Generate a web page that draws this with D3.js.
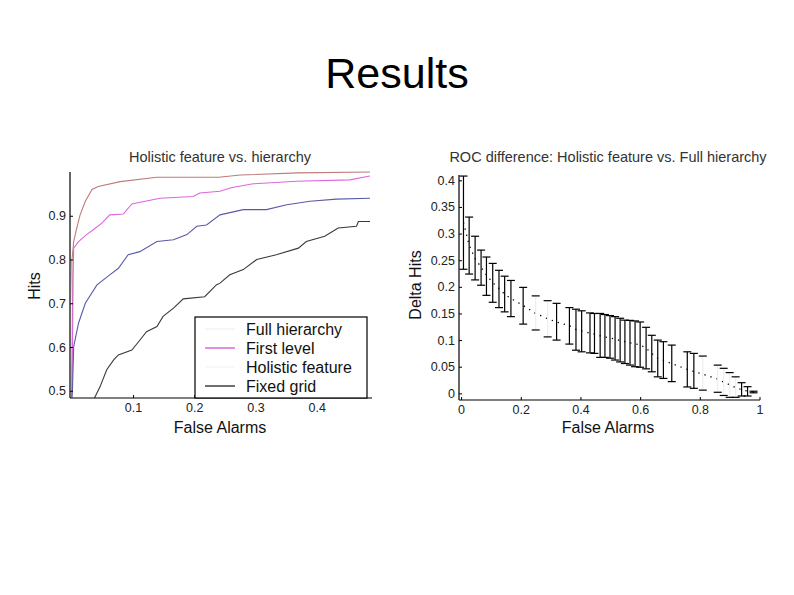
<!DOCTYPE html>
<html>
<head>
<meta charset="utf-8">
<script src="https://cdn.jsdelivr.net/npm/d3@7"></script>
<style>
  body { margin: 0; background: #fff; }
  svg { font-family: "Liberation Sans", Arial, sans-serif; }
  .tick-label { font-size: 12.5px; fill: #222; }
  .ax-label { font-size: 16px; fill: #111; }
  .sub-title { font-size: 14.5px; fill: #333; }
</style>
</head>
<body>
<svg id="chart" width="794" height="595"></svg>
<script>
// ---- left chart: ROC curves, [false alarms, hits] ----
let fullHierarchy = [[0, 0.485], [0.001, 0.7], [0, 0.795], [0.003, 0.841], [0.008, 0.872], [0.0135, 0.902],
  [0.022, 0.933], [0.033, 0.96], [0.043, 0.967], [0.079, 0.978], [0.139, 0.988], [0.24, 0.988],
  [0.275, 0.993], [0.37, 0.998], [0.487, 1.0]];
let firstLevel = [[0, 0.485], [0.001, 0.6], [0.002, 0.75], [0.003, 0.826], [0.011, 0.841], [0.024, 0.857],
  [0.035, 0.868], [0.049, 0.883], [0.062, 0.902], [0.084, 0.904], [0.098, 0.927], [0.144, 0.94],
  [0.198, 0.944], [0.209, 0.952], [0.242, 0.956], [0.26, 0.964], [0.296, 0.973], [0.367, 0.979],
  [0.454, 0.982], [0.487, 0.991]];
let holisticFeature = [[0, 0.485], [0.001, 0.502], [0.003, 0.601], [0.011, 0.655], [0.022, 0.7], [0.041, 0.742],
  [0.062, 0.765], [0.076, 0.78], [0.092, 0.811], [0.111, 0.818], [0.139, 0.841], [0.166, 0.845],
  [0.188, 0.857], [0.204, 0.876], [0.22, 0.879], [0.242, 0.902], [0.28, 0.914], [0.318, 0.914],
  [0.351, 0.925], [0.389, 0.933], [0.432, 0.938], [0.487, 0.94]];
let fixedGrid = [[0.037, 0.4835], [0.046, 0.509], [0.057, 0.548], [0.068, 0.57], [0.076, 0.582], [0.098, 0.593],
  [0.109, 0.612], [0.122, 0.635], [0.139, 0.647], [0.149, 0.67], [0.166, 0.689], [0.182, 0.71],
  [0.217, 0.715], [0.236, 0.742], [0.242, 0.746], [0.258, 0.765], [0.28, 0.777], [0.302, 0.8],
  [0.334, 0.811], [0.37, 0.826], [0.383, 0.841], [0.413, 0.853], [0.435, 0.872], [0.465, 0.876],
  [0.468, 0.887], [0.487, 0.887]];
let seriesNames = ['Full hierarchy', 'First level', 'Holistic feature', 'Fixed grid'];
let leftXTicks = [0.1, 0.2, 0.3, 0.4];
let leftYTicks = [0.5, 0.6, 0.7, 0.8, 0.9];

// ---- right chart: error bars [false alarms, lower, mean, upper] ----
let deltaX     = [0.008, 0.027, 0.047, 0.067, 0.085, 0.106, 0.127, 0.146, 0.167, 0.208, 0.25, 0.29, 0.32, 0.363,
  0.385, 0.404, 0.432, 0.447, 0.466, 0.482, 0.499, 0.516, 0.533, 0.549, 0.566, 0.583, 0.6, 0.62, 0.639,
  0.659, 0.678, 0.706, 0.758, 0.78, 0.81, 0.86, 0.88, 0.9, 0.92, 0.94, 0.96, 0.98];
let deltaLower = [0.233, 0.224, 0.213, 0.203, 0.184, 0.171, 0.161, 0.153, 0.144, 0.13, 0.119, 0.106, 0.1, 0.0925,
  0.081, 0.078, 0.076, 0.075, 0.0675, 0.0675, 0.066, 0.0625, 0.059, 0.056, 0.053, 0.05, 0.049, 0.046, 0.0405,
  0.031, 0.028, 0.022, 0.012, 0.0094, 0.006, 0.002, -0.004, -0.0075, -0.0075, -0.005, -0.005, 0.001];
let deltaMean  = [0.321, 0.278, 0.253, 0.237, 0.222, 0.208, 0.197, 0.186, 0.178, 0.165, 0.15, 0.14, 0.134, 0.127,
  0.12, 0.117, 0.113, 0.111, 0.108, 0.106, 0.104, 0.102, 0.099, 0.097, 0.095, 0.093, 0.091, 0.085, 0.075,
  0.066, 0.062, 0.056, 0.045, 0.041, 0.036, 0.027, 0.021, 0.016, 0.011, 0.007, 0.004, 0.0025];
let deltaUpper = [0.408, 0.331, 0.295, 0.269, 0.256, 0.244, 0.231, 0.22, 0.212, 0.199, 0.183, 0.174, 0.169, 0.161,
  0.158, 0.155, 0.151, 0.15, 0.15, 0.148, 0.146, 0.144, 0.141, 0.1375, 0.137, 0.136, 0.134, 0.124, 0.109,
  0.1, 0.097, 0.0906, 0.078, 0.075, 0.07, 0.053, 0.047, 0.039, 0.031, 0.02, 0.0125, 0.004];
// bars whose stems are lost in the scanned original
let fadedBars = [0.25, 0.29, 0.81, 0.86, 0.88, 0.9, 0.92];
let rightXTicks = [0, 0.2, 0.4, 0.6, 0.8, 1];
let rightYTicks = [0, 0.05, 0.1, 0.15, 0.2, 0.25, 0.3, 0.35, 0.4];

let svg = d3.select('#chart');

svg.append('text')
  .attr('x', 397).attr('y', 88)
  .attr('text-anchor', 'middle')
  .style('font-size', '43px')
  .style('fill', '#000')
  .text('Results');

// ================= left chart =================
let lx = d3.scaleLinear().domain([-0.003, 0.487]).range([70, 370]);
let ly = d3.scaleLinear().domain([0.4835, 1.0]).range([398, 172]);

let left = svg.append('g');

let colors = ['#c07a7a', '#dd66dd', '#5a5aa8', '#3a3a3a'];
let legendColors = ['#f6eeee', '#cc44cc', '#f0f0f8', '#111'];
let curves = [fullHierarchy, firstLevel, holisticFeature, fixedGrid];

let line = d3.line()
  .x(d => lx(d[0]))
  .y(d => ly(d[1]));

left.append('defs').append('clipPath').attr('id', 'lclip')
  .append('rect').attr('x', 70).attr('y', 165).attr('width', 302).attr('height', 233);

left.append('g').attr('clip-path', 'url(#lclip)')
  .selectAll('path')
  .data(curves)
  .enter().append('path')
  .attr('d', line)
  .attr('fill', 'none')
  .attr('stroke', (d, i) => colors[i])
  .attr('stroke-width', 1.1);

// axes
let lxAxis = d3.axisBottom(lx).tickValues(leftXTicks).tickSize(-3).tickPadding(5).tickFormat(d3.format('.1f'));
let lyAxis = d3.axisLeft(ly).tickValues(leftYTicks).tickSize(-3).tickPadding(4).tickFormat(d3.format('.1f'));

let gx = left.append('g').attr('transform', 'translate(0,398)').call(lxAxis);
let gy = left.append('g').attr('transform', 'translate(70,0)').call(lyAxis);
[gx, gy].forEach(g => {
  g.select('.domain').attr('stroke', '#000').attr('stroke-width', 1.2);
  g.selectAll('.tick line').attr('stroke', '#000');
  g.selectAll('.tick text').attr('class', 'tick-label').attr('font-family', null).attr('font-size', null);
});
gx.select('.domain').attr('d', 'M70,0H372');
gy.select('.domain').attr('d', 'M0,172V398');

// legend
let legend = left.append('g');
legend.append('rect')
  .attr('x', 195).attr('y', 317).attr('width', 172).attr('height', 81)
  .attr('fill', '#fff').attr('stroke', '#000').attr('stroke-width', 1.2);
let items = legend.selectAll('.item')
  .data(seriesNames)
  .enter().append('g')
  .attr('transform', (d, i) => 'translate(0,' + (329 + i * 19) + ')');
items.append('line')
  .attr('x1', 205).attr('x2', 235)
  .attr('stroke', (d, i) => legendColors[i])
  .attr('stroke-width', 1.2);
items.append('text')
  .attr('x', 246).attr('dy', '0.35em')
  .attr('class', 'ax-label')
  .text(d => d);

left.append('text').attr('class', 'sub-title')
  .attr('x', 220).attr('y', 162).attr('text-anchor', 'middle')
  .text('Holistic feature vs. hierarchy');
left.append('text').attr('class', 'ax-label')
  .attr('x', 220).attr('y', 433).attr('text-anchor', 'middle')
  .text('False Alarms');
left.append('text').attr('class', 'ax-label')
  .attr('transform', 'translate(40,286) rotate(-90)')
  .attr('text-anchor', 'middle')
  .text('Hits');

// ================= right chart =================
let rx = d3.scaleLinear().domain([-0.007, 1.0]).range([459, 759.5]);
let ry = d3.scaleLinear().domain([-0.0125, 0.41]).range([400, 175]);

let right = svg.append('g');

let bars = deltaX.map((x, i) => ({x: x, lo: deltaLower[i], mid: deltaMean[i], hi: deltaUpper[i],
  faded: fadedBars.indexOf(x) > -1}));

// dotted mean line
right.append('path')
  .datum(bars)
  .attr('d', d3.line().x(d => rx(d.x)).y(d => ry(d.mid)))
  .attr('fill', 'none')
  .attr('stroke', '#000')
  .attr('stroke-width', 1.3)
  .attr('stroke-dasharray', '1.3,5');

let eb = right.selectAll('.eb')
  .data(bars)
  .enter().append('g');
eb.append('line')
  .attr('x1', d => rx(d.x)).attr('x2', d => rx(d.x))
  .attr('y1', d => ry(d.lo)).attr('y2', d => ry(d.hi))
  .attr('stroke', d => d.faded ? '#eee' : '#000')
  .attr('stroke-width', 1.2);
['lo', 'hi'].forEach(k => {
  eb.append('line')
    .attr('x1', d => rx(d.x) - 4).attr('x2', d => rx(d.x) + 4)
    .attr('y1', d => ry(d[k])).attr('y2', d => ry(d[k]))
    .attr('stroke', '#000')
    .attr('stroke-width', 1.2);
});

let rxAxis = d3.axisBottom(rx).tickValues(rightXTicks).tickSize(-3).tickPadding(5).tickFormat(d3.format('~g'));
let ryAxis = d3.axisLeft(ry).tickValues(rightYTicks).tickSize(-3).tickPadding(4).tickFormat(d3.format('~g'));

let rgx = right.append('g').attr('transform', 'translate(0,400)').call(rxAxis);
let rgy = right.append('g').attr('transform', 'translate(459,0)').call(ryAxis);
[rgx, rgy].forEach(g => {
  g.select('.domain').attr('stroke', '#000').attr('stroke-width', 1.2);
  g.selectAll('.tick line').attr('stroke', '#000');
  g.selectAll('.tick text').attr('class', 'tick-label').attr('font-family', null).attr('font-size', null);
});
rgx.select('.domain').attr('d', 'M459,0H760');
rgy.select('.domain').attr('d', 'M0,175V400');

right.append('text').attr('class', 'sub-title')
  .attr('x', 608).attr('y', 162).attr('text-anchor', 'middle')
  .text('ROC difference: Holistic feature vs. Full hierarchy');
right.append('text').attr('class', 'ax-label')
  .attr('x', 608).attr('y', 433).attr('text-anchor', 'middle')
  .text('False Alarms');
right.append('text').attr('class', 'ax-label')
  .attr('transform', 'translate(421,285) rotate(-90)')
  .attr('text-anchor', 'middle')
  .text('Delta Hits');
</script>
</body>
</html>
